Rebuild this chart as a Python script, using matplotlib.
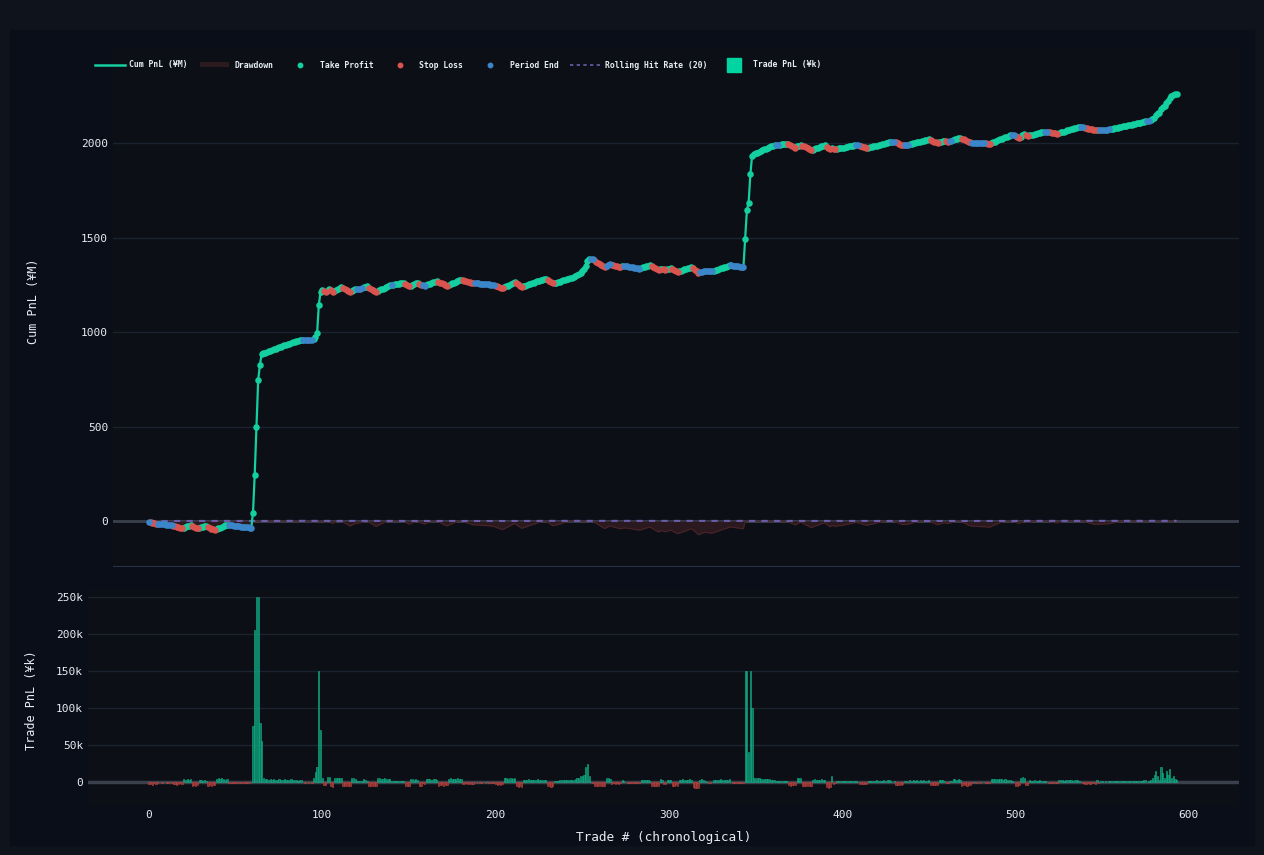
import numpy as np
import pandas as pd
import matplotlib
matplotlib.use("Agg")
import matplotlib.pyplot as plt
from matplotlib.lines import Line2D
from matplotlib.patches import Patch, Rectangle

plt.rcParams['font.family'] = ['DejaVu Sans Mono', 'DejaVu Sans']

# per-trade pnl in ¥k (trade 0 .. 593)
trade_pnl_k = [
    # 0-59: slow bleed before the first big run
    -3, -3, -4, -2, -3, -1, 0, -1, -1, 0, -1, -1, 0, -1,
    -3, -3, -4, -3, -2, -3, 4, 3, 4, 3, 4, -5, -4, -5, -4,
    3, 3, 2, 3, 2, -5, -4, -5, -4, -4, 4, 5, 4, 5, 4, 3, 4,
    -1, -1, -2, -1, -1, -1, -2, -1, -1, -1, -2, -1, -1, 0,
    # 60-65: jump
    76, 205, 250, 250, 80, 56,
    # 66-99
    5, 4, 4, 3, 4, 3, 4, 3, 3, 4, 3, 3, 4, 3, 3, 3, 4, 3, 3, 3, 2, 3, 3,
    0, -1, 0, -1, 0, -1,
    5, 13, 20, 150, 70,
    # 100-263
    6, -4, -4, 7, 7, -6, -7, 5, 6, 5, 5, 5, -5, -6, -5, -6, -5,
    5, 5, 4, 1, 2, 1, 2, 4, 3, 2, -6, -6, -5, -6, -6,
    5, 5, 4, 4, 5, 4, 4, 4, 2, 2, 2, 1, 2, 1, 1, 1,
    -6, -6, -5, 4, 4, 3, 4, 3, -5, -6, -2, -3,
    4, 4, 4, 3, 4, 4, 3, -5, -4, -4, -5, -4, -4,
    4, 5, 4, 4, 4, 5, 4, 4, -3, -3, -2, -3, -3, -3, -3,
    0, -1, 0, -1, -1, 0, -1, 0, -1, -2, -1, -1,
    -3, -4, -3, -4, -3, 5, 5, 4, 5, 5, 4, 5, -6, -7, -6, -7,
    3, 3, 3, 4, 3, 3, 3, 3, 4, 3, 3, 3, 3, 3, -6, -6, -7, -6,
    2, 2, 2, 3, 3, 3, 3, 3, 3, 3, 3, 3, 4, 5, 6, 8,
    8, 10, 20, 25, 8, 0, -1, -5, -6, -6, -5, -6, -6, -5,
    # 264-343
    5, 5, 4, -3, -2, -3, -2, -3, -2, 3,
    1, 0, -1, -1, -2, -1, -2, -1, -2, -2,
    3, 3, 3, 3, 3, 2, -5, -5, -6, -5, -5, 4, 3, -3, -3, 3, 3, 3,
    -5, -5, -4, -5, 3, 3, 4, 3, 3, 3, 4, 3, -7, -8, -8, -8,
    3, 4, 3, 2, 0, -2, -2, 0, 3, 3, 3, 3, 4, 3, 3, 3, 3, 4,
    0, -1, -1, -2, -1, -2, -1, -1,
    # 344-348: jump
    150, 150, 40, 150, 100,
    # 349-593
    6, 5, 5, 5, 4, 4, 4, 4, 4, 4, 3, 3, 3, 1, 1, 2, 2, 1, 1, 1,
    -4, -5, -4, -4, -4, 6, 5, 5, -5, -5, -5, -5, -5, -5,
    3, 4, 3, 3, 3, 4, 3, 3, -7, -8, -7, 8, -3, -2, 2, 1, 1, 1,
    2, 2, 2, 2, 2, 2, 2, 1, 0, -3, -3, -3, -3, -3,
    2, 2, 2, 2, 2, 3, 2, 2, 2, 3, 2, 3, 3, 2, 0, 1,
    -4, -4, -4, -4, -3, 1, 1, 0,
    3, 2, 3, 2, 3, 2, 3, 2, 3, 2, 2, 3, -4, -4, -4, -4, -4,
    3, 3, 3, 2, -2, -2, 2, 2, 4, 4, 3, 4, 3, -5, -4, -4, -5, -4, -4,
    -1, 0, -1, -1, 0, -1, 0, 0, -1, -1, -1,
    4, 4, 4, 4, 4, 4, 4, 3, 4, 3, 3, 3, 1, 0, -5, -5, -4, 6, 7, 6, -4, -4,
    3, 2, 2, 3, 2, 2, 3, 2, 2, 1, 0, -2, -2, -1, -2, -2, -1,
    3, 3, 3, 2, 3, 3, 3, 3, 2, 3, 3, 3, 2, 0, -1,
    -3, -3, -2, -3, -2, -2, -3, 3, -2, 1, 1, 0, 1, 0, 1,
    2, 2, 2, 2, 2, 2, 2, 2, 2, 2, 2, 2, 2, 2, 2, 2, 2, 2, 2, 3, 3, 0, 1,
    3, 5, 10, 15, 8, 3, 20, 12, 5, 15, 10, 18, 6, 8, 4, 3,
]

# exit reason per trade: T = take profit, S = stop loss, P = period end
exit_code = (
    "P" "SSSS" "PPPPPPPPP" "SSSSSS" "TTTTT" "SSSS" "TTTTT" "SSSSS" "TTTTTTT"
    "PPPPPPPPPPPPPP"
    "TTTTTT"
    "TTTTTTTTTT" "TTTTTTTTTT" "TTT" "PPPPPP" "TTTTT"
    "T" "SS" "TT" "SS" "TTTTT" "SSSSS" "TTT" "PPPP" "TTT" "SSSSS"
    "TTTTTTTT" "P" "TTTTTTT" "SSS" "TTTTT" "SSPP" "TTTTTTT" "SSSSSS"
    "TTTTTTTT" "SSSSSSS" "PPPPPPPPPPPP" "SSSSS" "TTTTTTT" "SSSS"
    "TTTTTTTTTTTTTT" "SSSS" "TTTTTTTTTTTTTTTT" "TTTTT" "PP" "SSSSSSS"
    "PPP" "SSSSSS" "T" "PPPPPPPPPP" "TTTTTT" "SSSSS" "TT" "SS" "TTT"
    "SSSS" "TTTTTTTT" "SSSS" "PPPPPPPP" "TTTTTTTTTT" "PPPPPPPP"
    "TTTTT"
    "TTTTTTTTTTTTT" "PP" "TTTTT" "SSSSS" "TTT" "SSSSSS" "TTTTTTTT" "SSS"
    "T" "SS" "TTTT" "TTTTTTT" "PP" "SSSSS" "TTTTTTTTTTTTTT" "PP" "SSSSS"
    "PPP" "TTTTTTTTTTTT" "SSSSS" "TTTT" "SS" "PP" "TTTTT" "SSSSSS"
    "PPPPPPPP" "SSS" "TTTTTTTTTTTT" "PP" "SSS" "TTT" "SS" "TTTTTTTTT" "PP"
    "SSSSSS" "TTTTTTTTTTTTT" "PP" "SSSSSSS" "T" "S" "PPPPPP"
    "TTTTTTTTTTTTTTTTTTTTT" "PP" "TTTTTTTTTTTTTTTT"
)

if len(trade_pnl_k) != len(exit_code):
    raise SystemExit(f"length mismatch {len(trade_pnl_k)} vs {len(exit_code)}")

cum_ticks = [0, 500, 1000, 1500, 2000]
bar_ticks = [0, 50, 100, 150, 200, 250]
bar_tick_labels = ["0", "50k", "100k", "150k", "200k", "250k"]
x_ticks = [0, 100, 200, 300, 400, 500, 600]

pnl = np.array(trade_pnl_k, dtype=float)
trade = np.arange(len(pnl))
codes = np.array(list(exit_code))
cum = np.cumsum(pnl)  # running total, on the ¥M axis
drawdown = cum - np.maximum.accumulate(np.maximum(cum, 0))
hit_rate = pd.Series((pnl > 0).astype(float)).rolling(20, min_periods=1).mean()

GREEN = '#14cfa0'
RED = '#d9534f'
BLUE = '#3b86c8'
TXT = '#e6edf3'
GRID = '#1c2230'

W, H = 1264, 855
fig = plt.figure(figsize=(12.64, 8.55), dpi=100, facecolor='#0f131c')
fig.patches.append(Rectangle((10 / W, 10 / H), 1244 / W, 815 / H,
                             transform=fig.transFigure, color='#0a0e18', zorder=-5))

# same x scale in both panels: trade 0 at px 149, 1.733 px per trade
X0, PX = 149, 1.733
L1, L2, R = 113, 88, 1239
ax1 = fig.add_axes([L1 / W, 1 - 566 / H, (R - L1) / W, (566 - 48) / H])
ax2 = fig.add_axes([L2 / W, 1 - 806 / H, (R - L2) / W, (806 - 590) / H])

for ax in (ax1, ax2):
    ax.set_facecolor('#0c1016')
    for s in ax.spines.values():
        s.set_visible(False)
    ax.tick_params(length=0, colors=TXT, labelsize=8)
    ax.grid(axis='y', color=GRID, lw=0.9)
    ax.set_axisbelow(True)
ax1.spines['bottom'].set_visible(True)
ax1.spines['bottom'].set_color('#26324a')

# top: cumulative pnl
ax1.axhline(0, color='#3a404c', lw=2, zorder=1)
ax1.fill_between(trade, drawdown, 0, color='#2a191e', lw=0, zorder=1.5)
ax1.plot(trade, drawdown, color='#4a2428', lw=0.8, zorder=1.6)
ax1.plot(trade, hit_rate, color='#6a5caa', lw=1.5, dashes=(3, 3), zorder=1.8)
ax1.plot(trade, cum, color=GREEN, lw=1.6, zorder=2)
for code, col in (('T', GREEN), ('S', RED), ('P', BLUE)):
    m = codes == code
    ax1.scatter(trade[m], cum[m], s=22, color=col, lw=0, zorder=3)
ax1.set_xlim((L1 - X0) / PX, (R - X0) / PX)
ax1.set_ylim(-238, 2503)
ax1.set_yticks(cum_ticks)
ax1.set_xticks(x_ticks)
ax1.set_ylabel('Cum PnL (¥M)', color=TXT, fontsize=8.5, va='center')
ax1.yaxis.set_label_coords((33 - L1) / (R - L1), 0.512)
ax1.tick_params(axis='x', labelbottom=False)

# bottom: per-trade pnl bars
ax2.axhline(0, color='#3a404c', lw=2.5, zorder=1)
pos = pnl >= 0
ax2.bar(trade[pos], pnl[pos], width=0.7, color='#0b7a5e', edgecolor='#12b88e', lw=0.4, zorder=2)
ax2.bar(trade[~pos], pnl[~pos], width=0.7, color='#8a2f2f', edgecolor='#c4453f', lw=0.4, zorder=2)
ax2.set_ylim(-32.4, 259.4)
ax2.set_yticks(bar_ticks)
ax2.set_yticklabels(bar_tick_labels)
ax2.set_xlim((L2 - X0) / PX, (R - X0) / PX)
ax2.set_xticks(x_ticks)
ax2.tick_params(axis='x', pad=3)
ax2.set_ylabel('Trade PnL (¥k)', color=TXT, fontsize=8.5, va='center')
ax2.yaxis.set_label_coords((31 - L2) / (R - L2), 0.49)
ax2.set_xlabel('Trade # (chronological)', color=TXT, fontsize=9.2, va='center')
ax2.xaxis.set_label_coords(0.5, -0.148)

handles = [
    Line2D([], [], color=GREEN, lw=1.8),
    Patch(facecolor='#2b1a1e'),
    Line2D([], [], marker='o', ls='none', color=GREEN, ms=3.2),
    Line2D([], [], marker='o', ls='none', color=RED, ms=3.2),
    Line2D([], [], marker='o', ls='none', color=BLUE, ms=3.2),
    Line2D([], [], color='#6a5caa', lw=1.2, dashes=(2, 2)),
    Line2D([], [], marker='s', ls='none', color='#00d4a0', ms=9.5),
]
labels = ['Cum PnL (¥M)', 'Drawdown', 'Take Profit', 'Stop Loss', 'Period End',
          'Rolling Hit Rate (20)', 'Trade PnL (¥k)']
leg = fig.legend(handles, labels, loc='center left', bbox_to_anchor=(95 / W, 1 - 65 / H),
                 ncol=7, frameon=False, handlelength=3.6, handletextpad=0.6,
                 columnspacing=1.45, borderpad=0, borderaxespad=0,
                 prop={'weight': 'bold', 'size': 5.9})
for t in leg.get_texts():
    t.set_color(TXT)

fig.savefig('out.png', dpi=100, facecolor=fig.get_facecolor())
